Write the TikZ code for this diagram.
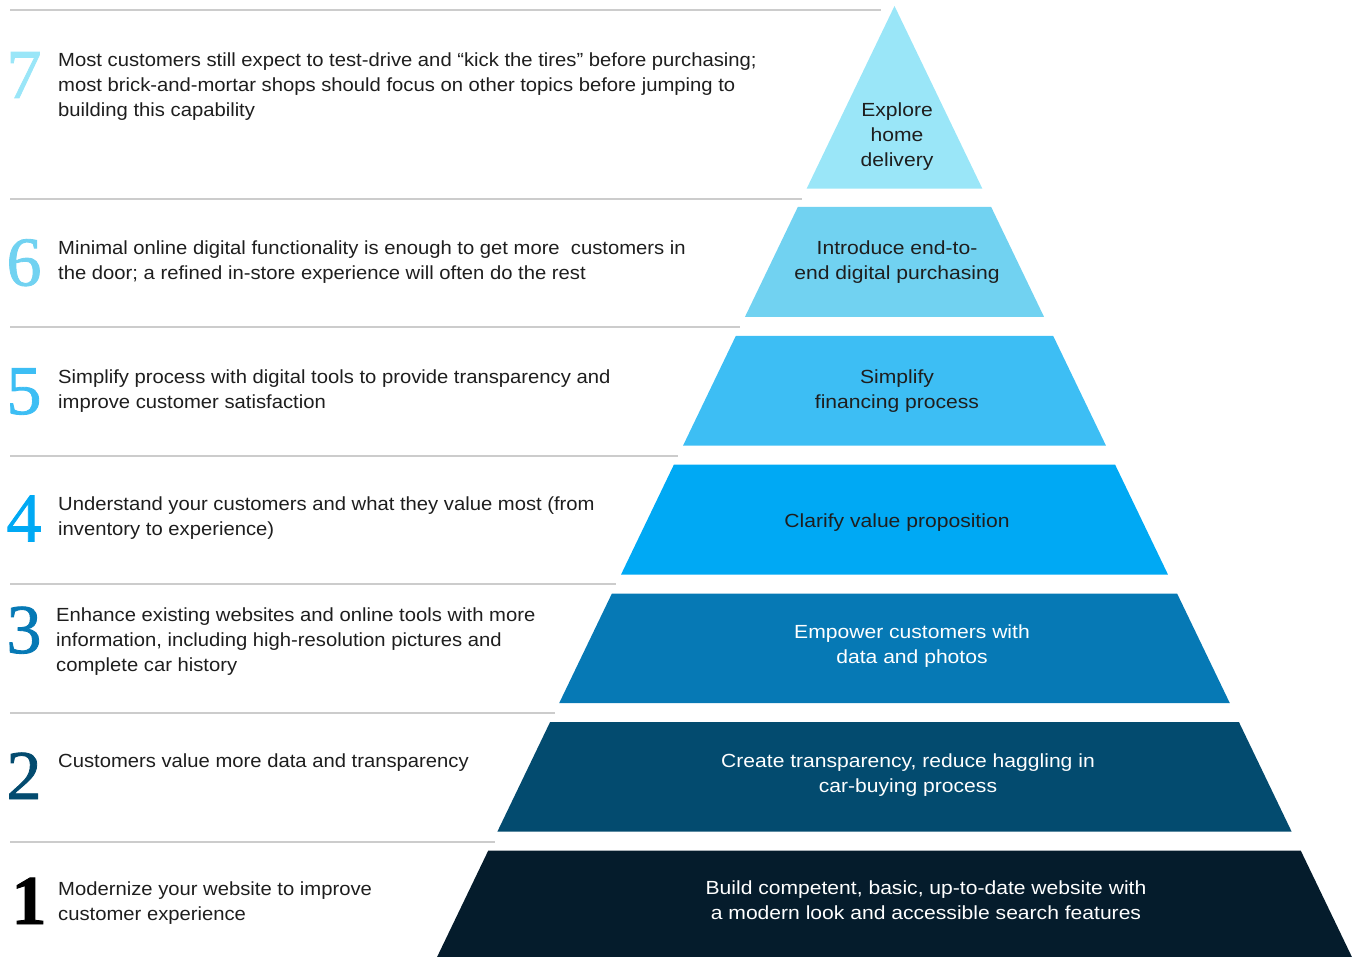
\documentclass[tikz,border=0pt]{standalone}
\usepackage{fontspec}
\setmainfont{Liberation Sans}[FakeStretch=1.065]
\newfontfamily\pyrfont{Liberation Sans}[FakeStretch=1.11]
\newfontfamily\numfont{Liberation Serif}[FakeBold=1.2]
\definecolor{cseven}{HTML}{9AE6F8}
\definecolor{csix}{HTML}{71D2F1}
\definecolor{cfive}{HTML}{3DBEF4}
\definecolor{cfour}{HTML}{00A9F4}
\definecolor{cthree}{HTML}{0679B5}
\definecolor{ctwo}{HTML}{034B6F}
\definecolor{cone}{HTML}{051C2C}
\definecolor{sepgray}{HTML}{CCCCCC}
\definecolor{txtdark}{HTML}{1E1E1E}
\newcommand\pyrlayer[3]{%
  \fill[#3] ({894.5-0.481*(#1-6)},#1) -- ({894.5+0.481*(#1-6)},#1)
    -- ({894.5+0.481*(#2-6)},#2) -- ({894.5-0.481*(#2-6)},#2) -- cycle;}
\newcommand\seprule[3]{%
  \coordinate (#1a) at (10,#2);
  \coordinate (#1b) at (#3,#2);
  \draw[sepline] (#1a) -- (#1b);}
\begin{document}
\begin{tikzpicture}[x=1pt,y=-1pt,
  sepline/.style={draw=sepgray,line width=1.3pt},
  desc/.style={anchor=north west,inner sep=0pt,align=left,text=txtdark,
    font=\fontsize{19}{25.3}\selectfont,execute at begin node=\strut},
  pyrtext/.style={anchor=north,inner sep=0pt,align=center,
    font=\pyrfont\fontsize{19}{25.3}\selectfont,execute at begin node=\strut},
  numeral/.style={anchor=base,inner sep=0pt,font=\numfont\fontsize{70}{70}\selectfont}]
\useasboundingbox (0,0) rectangle (1357,957);
% separator lines
\seprule{s7}{10}{881}
\seprule{s6}{199}{802}
\seprule{s5}{327}{740}
\seprule{s4}{456}{678}
\seprule{s3}{584}{616}
\seprule{s2}{713}{555}
\seprule{s1}{842}{495}
% pyramid
\pyrlayer{6}{188.7}{cseven}
\pyrlayer{207}{317}{csix}
\pyrlayer{336}{445.5}{cfive}
\pyrlayer{464.5}{574.5}{cfour}
\pyrlayer{593.5}{703}{cthree}
\pyrlayer{722}{831.7}{ctwo}
\pyrlayer{850.7}{957}{cone}
% pyramid labels
\node[pyrtext,text=txtdark] (p7) at (897,102.3) {Explore\\home\\delivery};
\node[pyrtext,text=txtdark] (p6) at (897,240.3) {Introduce end-to-\\end digital purchasing};
\node[pyrtext,text=txtdark] (p5) at (897,369.3) {Simplify\\financing process};
\node[pyrtext,text=txtdark] (p4) at (897,509.3) {Clarify value proposition};
\node[pyrtext,text=white] (p3) at (912,624.3) {Empower customers with\\data and photos};
\node[pyrtext,text=white] (p2) at (908,753.3) {Create transparency, reduce haggling in\\car-buying process};
\node[pyrtext,text=white] (p1) at (926,880.6) {Build competent, basic, up-to-date website with\\a modern look and accessible search features};
% numerals
\node[numeral,text=cseven] (n7) at (24,98) {7};
\node[numeral,text=csix] (n6) at (24,285.5) {6};
\node[numeral,text=cfive] (n5) at (24,414) {5};
\node[numeral,text=cfour] (n4) at (24,541.5) {4};
\node[numeral,text=cthree] (n3) at (24,653) {3};
\node[numeral,text=ctwo] (n2) at (24,799) {2};
\node[numeral,text=black,font=\numfont\bfseries\fontsize{70}{70}\selectfont] (n1) at (29,924) {1};
% descriptions
\node[desc] (d7) at (58,52.3) {Most customers still expect to test-drive and “kick the tires” before purchasing;\\most brick-and-mortar shops should focus on other topics before jumping to\\building this capability};
\node[desc] (d6) at (58,240.3) {Minimal online digital functionality is enough to get more\ \ customers in\\the door; a refined in-store experience will often do the rest};
\node[desc] (d5) at (58,369.3) {Simplify process with digital tools to provide transparency and\\improve customer satisfaction};
\node[desc] (d4) at (58,496.3) {Understand your customers and what they value most (from\\inventory to experience)};
\node[desc] (d3) at (56,607.3) {Enhance existing websites and online tools with more\\information, including high-resolution pictures and\\complete car history};
\node[desc] (d2) at (58,749.3) {Customers value more data and transparency};
\node[desc] (d1) at (58,881.3) {Modernize your website to improve\\customer experience};
\end{tikzpicture}
\end{document}
